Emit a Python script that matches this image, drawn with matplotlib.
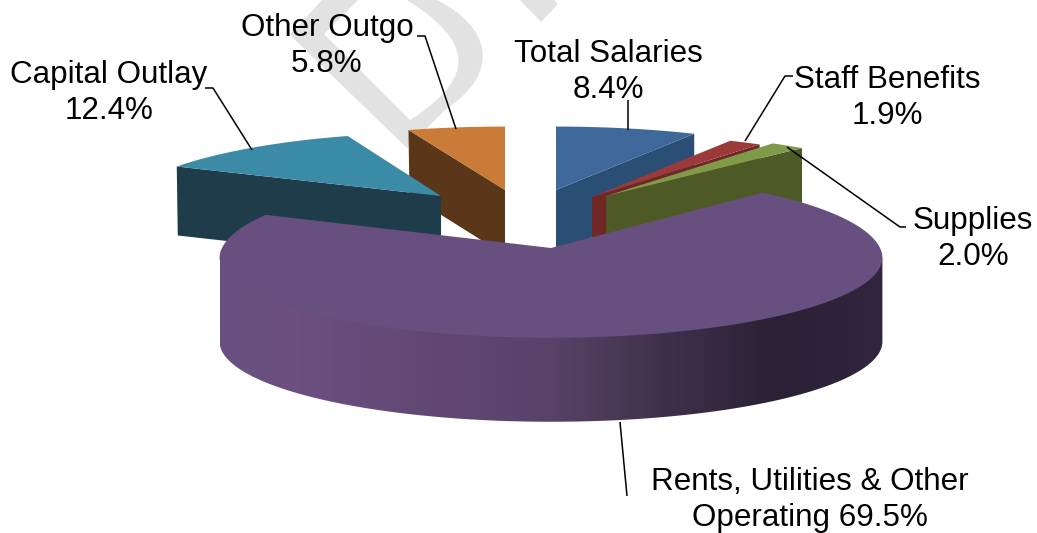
import numpy as np
import matplotlib
matplotlib.use("Agg")
import matplotlib.pyplot as plt
from matplotlib.path import Path
from matplotlib.patches import PathPatch, Polygon
from matplotlib.colors import LinearSegmentedColormap

plt.rcParams['font.family'] = ['Liberation Sans', 'DejaVu Sans']

categories = ["Total Salaries", "Staff Benefits", "Supplies",
              "Rents, Utilities & Other", "Capital Outlay", "Other Outgo"]
shares = [8.4, 1.9, 2.0, 69.5, 12.4, 5.8]

top_colors = ["#40699b", "#9b3a38", "#7f9a49", "#67507f", "#3c8ba6", "#c97b37"]
wall_colors = ["#2b4e75", "#702826", "#4d5a26", "#67507f", "#1e3c4a", "#5b371a"]
apex_x = [556, 592, 606, 551, 441, 505]
apex_y = [190, 197, 196, 248, 196, 190]
radii = [329, 329, 327, 329, 318, 329]
depths = [62, 62, 62, 84, 69, 65]

fig = plt.figure(figsize=(10.37, 5.33), dpi=100)
ax = fig.add_axes([0, 0, 1, 1])
ax.set_xlim(0, 1037)
ax.set_ylim(533, 0)
ax.axis("off")


def project(theta_deg, R, big=False):
    t = np.radians(theta_deg)
    u, v = np.sin(t), np.cos(t)
    if big:
        k, ry_front, ry_back = 0.12, 79.0, 84.0
    else:
        k, ry_front, ry_back = 0.23, 78.0, 78.0
    den = 1 + k * v
    ry = np.where(v > 0, ry_back, ry_front)
    return R * u / den, -ry * v / den


# faint watermark behind the pie
wm = Path(
    [(290, 35), (407, 148), (445, 110), (505, 70), (487, 25), (437, 0), (322, 0), (290, 35),
     (324, 34), (358, 0), (407, 0), (470, 40), (480, 75), (410, 120), (324, 34)],
    [Path.MOVETO, Path.LINETO, Path.LINETO, Path.CURVE4, Path.CURVE4, Path.CURVE4, Path.LINETO, Path.CLOSEPOLY,
     Path.MOVETO, Path.LINETO, Path.LINETO, Path.CURVE4, Path.CURVE4, Path.CURVE4, Path.CLOSEPOLY])
ax.add_patch(PathPatch(wm, fc="#e2e2e2", ec="none", zorder=0))
ax.add_patch(Polygon([(520, 0), (541, 22), (558, 4), (554, 0)], fc="#e2e2e2", ec="none", zorder=0))

edges = np.concatenate([[0], np.cumsum(shares)]) * 3.6
order = [5, 4, 0, 1, 2, 3]
side_cmap = LinearSegmentedColormap.from_list(
    "side", [(0, "#67517f"), (0.12, "#6b4f80"), (0.5, "#584268"),
             (0.64, "#43344f"), (0.84, "#2b2034"), (1, "#31263d")])

z = 2
for i in order:
    big = shares[i] > 50
    th = np.linspace(edges[i], edges[i + 1], 400)
    dx, dy = project(th, radii[i], big)
    x = apex_x[i] + dx
    y = apex_y[i] + dy
    d = depths[i]
    if big:
        # curved outer wall: one gradient clipped to the front part of the rim
        a, b = int(np.argmax(x)), int(np.argmin(x))
        fx, fy = x[a:b + 1], y[a:b + 1]
        outline = np.column_stack([np.r_[fx, fx[::-1]], np.r_[fy - 2, fy[::-1] + d]])
        clip = Polygon(outline, closed=True, fc="none", ec="none", transform=ax.transData)
        ax.add_patch(clip)
        im = ax.imshow(np.linspace(0, 1, 512)[None, :], cmap=side_cmap, aspect="auto",
                       extent=(x.min(), x.max(), y.max() + d, y.min()), zorder=z,
                       interpolation="bilinear")
        im.set_clip_path(clip)
        ax.set_xlim(0, 1037)
        ax.set_ylim(533, 0)
    else:
        # radial wall facing the viewer
        if i in (4, 5):
            ex, ey = x[0], y[0]
            ax.add_patch(Polygon([(apex_x[i], apex_y[i]), (ex, ey), (ex + 1, ey + d),
                                  (apex_x[i], apex_y[i] + d)],
                                 fc=wall_colors[i], ec="none", zorder=z))
        else:
            ex, ey = x[-1], y[-1]
            ax.add_patch(Polygon([(apex_x[i], apex_y[i]), (ex, ey), (ex, ey + d),
                                  (apex_x[i], apex_y[i] + d)],
                                 fc=wall_colors[i], ec="none", zorder=z))
    z += 1
    ax.add_patch(Polygon(np.column_stack([np.r_[apex_x[i], x], np.r_[apex_y[i], y]]),
                         fc=top_colors[i], ec="none", zorder=z))
    z += 1

# leader lines
leaders = [
    [(628, 100), (628, 130)],
    [(793, 76), (785, 76), (745, 141)],
    [(906, 227), (900, 227), (787, 147)],
    [(627, 496), (620, 422)],
    [(205, 88), (213, 88), (252, 150)],
    [(417, 36), (425, 36), (456, 129)],
]
for pts in leaders:
    a_ = np.array(pts)
    ax.plot(a_[:, 0], a_[:, 1], color="black", lw=1.1, zorder=40, solid_capstyle="butt")

labels = ["Total Salaries\n8.4%", "Staff Benefits\n1.9%", "Supplies\n2.0%",
          "Rents, Utilities & Other\nOperating 69.5%", "Capital Outlay\n12.4%", "Other Outgo\n5.8%"]
label_pos = [(608, 72), (887, 98), (973, 239), (810, 500), (109, 93), (327, 46)]
for s, (lx, ly) in zip(labels, label_pos):
    ax.text(lx, ly, s, ha="center", va="center", fontsize=22.6, color="black",
            linespacing=1.25, zorder=50)

fig.savefig("out.png", dpi=100, facecolor="white")
